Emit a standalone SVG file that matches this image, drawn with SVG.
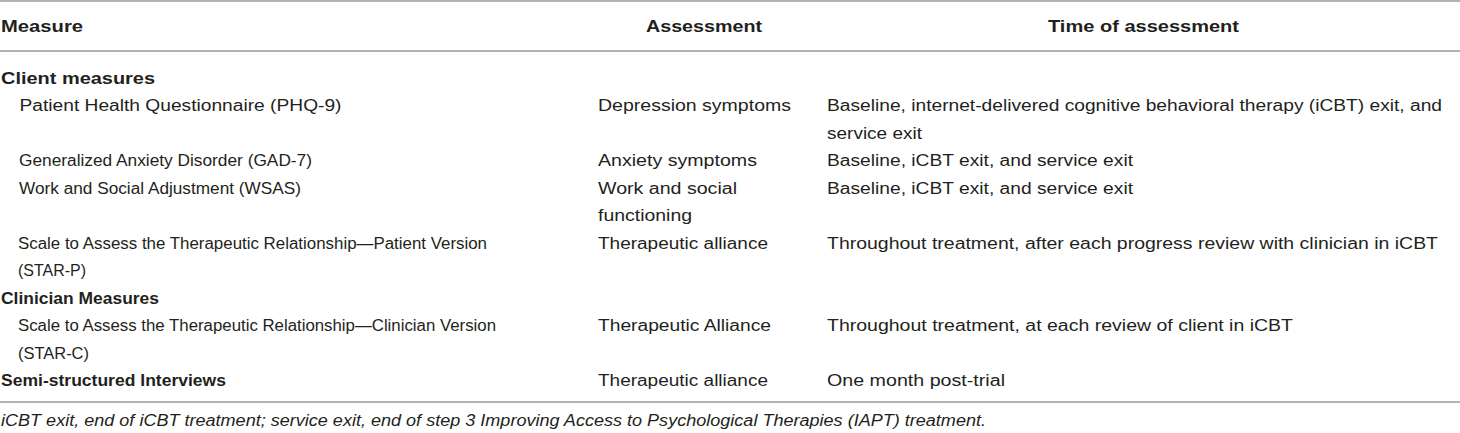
<svg xmlns="http://www.w3.org/2000/svg" width="1460" height="433" viewBox="0 0 1460 433">
<style>
text{font-family:"Liberation Sans",Arial,sans-serif;font-size:17.3px;fill:#231f20}
.b{font-weight:bold}
.i{font-style:italic}
.rule{stroke:#b3b3b3;stroke-width:2}
</style>
<rect width="1460" height="433" fill="#fff"/>
<g id="rules">
<line class="rule" x1="0" y1="1" x2="1460" y2="1"/>
<line class="rule" x1="0" y1="51" x2="1460" y2="51"/>
<line class="rule" x1="0" y1="402" x2="1460" y2="402"/>
</g>
<g id="header">
<text class="b" x="1" y="32" textLength="82" lengthAdjust="spacingAndGlyphs">Measure</text>
<text class="b" x="646" y="32" textLength="116" lengthAdjust="spacingAndGlyphs">Assessment</text>
<text class="b" x="1048" y="32" textLength="191" lengthAdjust="spacingAndGlyphs">Time of assessment</text>
</g>
<g id="client">
<text class="b" x="1" y="83.5" textLength="154" lengthAdjust="spacingAndGlyphs">Client measures</text>
<text x="19.5" y="111" textLength="322" lengthAdjust="spacingAndGlyphs">Patient Health Questionnaire (PHQ-9)</text>
<text x="598" y="111" textLength="193" lengthAdjust="spacingAndGlyphs">Depression symptoms</text>
<text x="827" y="111" textLength="615" lengthAdjust="spacingAndGlyphs">Baseline, internet-delivered cognitive behavioral therapy (iCBT) exit, and</text>
<text x="827" y="138.5" textLength="95" lengthAdjust="spacingAndGlyphs">service exit</text>
<text x="19" y="166" textLength="293" lengthAdjust="spacingAndGlyphs">Generalized Anxiety Disorder (GAD-7)</text>
<text x="598" y="166" textLength="159" lengthAdjust="spacingAndGlyphs">Anxiety symptoms</text>
<text x="827" y="166" textLength="306" lengthAdjust="spacingAndGlyphs">Baseline, iCBT exit, and service exit</text>
<text x="19" y="193.5" textLength="282" lengthAdjust="spacingAndGlyphs">Work and Social Adjustment (WSAS)</text>
<text x="598" y="193.5" textLength="139" lengthAdjust="spacingAndGlyphs">Work and social</text>
<text x="598" y="221" textLength="94" lengthAdjust="spacingAndGlyphs">functioning</text>
<text x="827" y="193.5" textLength="306" lengthAdjust="spacingAndGlyphs">Baseline, iCBT exit, and service exit</text>
<text x="18" y="248.5" textLength="469" lengthAdjust="spacingAndGlyphs">Scale to Assess the Therapeutic Relationship—Patient Version</text>
<text x="18" y="276" textLength="68" lengthAdjust="spacingAndGlyphs">(STAR-P)</text>
<text x="598" y="248.5" textLength="170" lengthAdjust="spacingAndGlyphs">Therapeutic alliance</text>
<text x="827" y="248.5" textLength="611" lengthAdjust="spacingAndGlyphs">Throughout treatment, after each progress review with clinician in iCBT</text>
</g>
<g id="clinician">
<text class="b" x="1" y="303.5" textLength="158" lengthAdjust="spacingAndGlyphs">Clinician Measures</text>
<text x="18" y="331" textLength="478" lengthAdjust="spacingAndGlyphs">Scale to Assess the Therapeutic Relationship—Clinician Version</text>
<text x="18" y="358.5" textLength="71" lengthAdjust="spacingAndGlyphs">(STAR-C)</text>
<text x="598" y="331" textLength="173" lengthAdjust="spacingAndGlyphs">Therapeutic Alliance</text>
<text x="827" y="331" textLength="466" lengthAdjust="spacingAndGlyphs">Throughout treatment, at each review of client in iCBT</text>
</g>
<g id="interviews">
<text class="b" x="1" y="386" textLength="225" lengthAdjust="spacingAndGlyphs">Semi-structured Interviews</text>
<text x="598" y="386" textLength="170" lengthAdjust="spacingAndGlyphs">Therapeutic alliance</text>
<text x="827" y="386" textLength="178" lengthAdjust="spacingAndGlyphs">One month post-trial</text>
</g>
<g id="footnote">
<text class="i" x="1" y="426" textLength="985" lengthAdjust="spacingAndGlyphs">iCBT exit, end of iCBT treatment; service exit, end of step 3 Improving Access to Psychological Therapies (IAPT) treatment.</text>
</g>
</svg>
